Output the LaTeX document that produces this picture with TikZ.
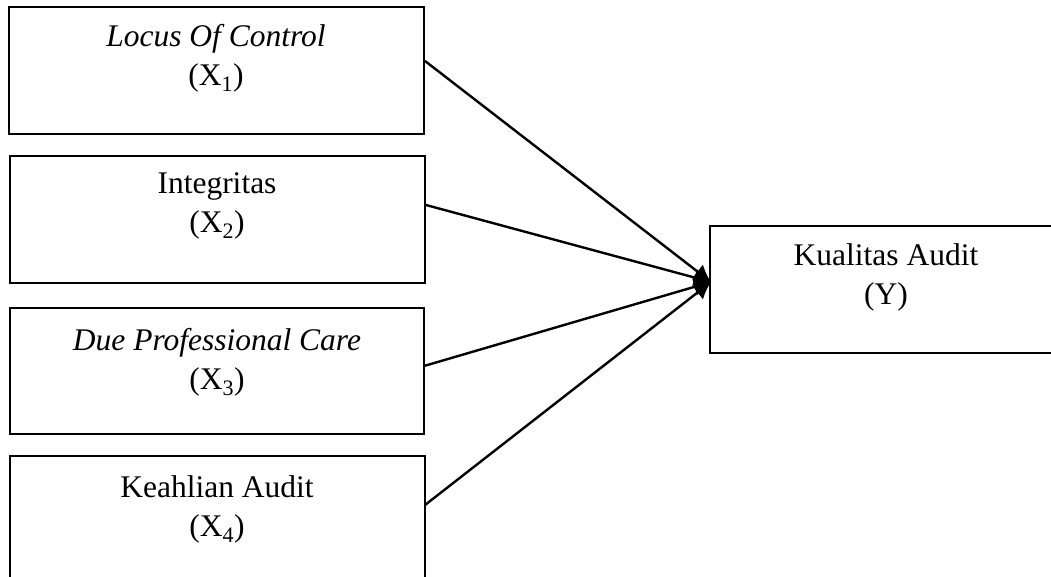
\documentclass[tikz,border=0pt]{standalone}
\usepackage{fontspec}
\setmainfont{Liberation Serif}
\usetikzlibrary{arrows.meta,calc}
\begin{document}
\begin{tikzpicture}[x=1pt,y=-1pt,
  box/.style={draw=black,line width=1.8pt,fill=none},
  lbl/.style={anchor=north,align=center,font=\fontsize{31.5}{39}\selectfont,inner sep=0pt},
  conn/.style={line width=2.4pt,-{Latex[length=17pt,width=18pt]}}]
\useasboundingbox (0,0) rectangle (1051,577);
% boxes
\draw[box] (9,7) rectangle (424,134);
\draw[box] (10,156) rectangle (425,283);
\draw[box] (10,308) rectangle (424,434);
\draw[box] (10,456) rectangle (425,600);
\draw[box] (710,226) rectangle (1070,353);
% labels
\node[lbl] (x1) at (216,24) {\textit{Locus Of Control}\\(X\textsubscript{1})};
\node[lbl] (x2) at (217,172) {Integritas\\(X\textsubscript{2})};
\node[lbl] (x3) at (217,328) {\textit{Due Professional Care}\\(X\textsubscript{3})};
\node[lbl] (x4) at (217,475) {Keahlian Audit\\(X\textsubscript{4})};
\node[lbl] (y) at (886,243) {Kualitas Audit\\(Y)};
% connector endpoints
\coordinate (s1) at (425,61);
\coordinate (s2) at (426,205);
\coordinate (s3) at (424,366);
\coordinate (s4) at (425,505);
\coordinate (t) at (711,282);
\draw[conn] (s1) -- (t);
\draw[conn] (s2) -- (t);
\draw[conn] (s3) -- (t);
\draw[conn] (s4) -- (t);
\end{tikzpicture}
\end{document}
